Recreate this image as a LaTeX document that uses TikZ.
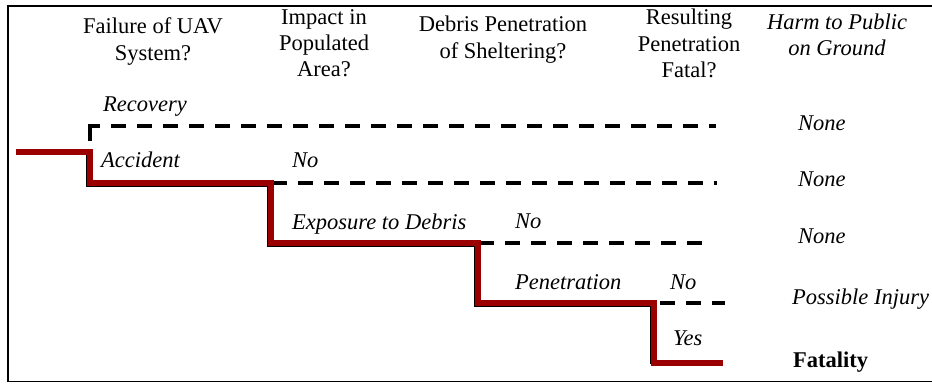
\documentclass[tikz,border=0pt]{standalone}
\usepackage{fontspec}
\setmainfont{Liberation Serif}
\definecolor{pathred}{RGB}{155,0,0}
\tikzset{
  hdr/.style={font=\fontsize{22.5}{27}\selectfont, anchor=base, inner sep=0pt},
  hdri/.style={font=\fontsize{22.5}{27}\selectfont\itshape, anchor=base, inner sep=0pt},
  lbl/.style={font=\fontsize{22.5}{27}\selectfont\itshape, anchor=base west, inner sep=0pt},
  outbold/.style={font=\fontsize{22.5}{27}\selectfont\bfseries, anchor=base west, inner sep=0pt},
  redpath/.style={draw=pathred, line width=5.5pt, line join=miter},
  shadowpath/.style={draw=black, line width=5.5pt, line join=miter},
  dashpath/.style={draw=black, line width=4pt, dash pattern=on 15pt off 11pt},
  framestyle/.style={draw=black, line width=1.5pt}
}
\begin{document}
\begin{tikzpicture}[x=1pt,y=-1pt]
\useasboundingbox (0,0) rectangle (932,383);
% frame
\coordinate (f1) at (932,6);
\coordinate (f2) at (8,6);
\coordinate (f3) at (8,381.5);
\coordinate (f4) at (932,381.5);
\draw[framestyle] (f1) -- (f2) -- (f3) -- (f4);

% headers
\node[hdr] (h1a) at (153,33) {Failure of UAV};
\node[hdr] (h1b) at (153,60) {System?};
\node[hdr] (h2a) at (324,24) {Impact in};
\node[hdr] (h2b) at (324,50) {Populated};
\node[hdr] (h2c) at (324,76) {Area?};
\node[hdr] (h3a) at (503,31) {Debris Penetration};
\node[hdr] (h3b) at (503,58) {of Sheltering?};
\node[hdr] (h4a) at (689,24) {Resulting};
\node[hdr] (h4b) at (689,51) {Penetration};
\node[hdr] (h4c) at (689,77) {Fatal?};
\node[hdri] (h5a) at (837,29) {Harm to Public};
\node[hdri] (h5b) at (837,55) {on Ground};

% path corners
\coordinate (c0) at (16,152);
\coordinate (c1) at (90,152);
\coordinate (c2) at (90,183);
\coordinate (c3) at (271,183);
\coordinate (c4) at (271,243);
\coordinate (c5) at (478,243);
\coordinate (c6) at (478,303);
\coordinate (c7) at (654,303);
\coordinate (c8) at (654,363);
\coordinate (c9) at (723,363);

% dashed branches
\coordinate (d1s) at (90,141);
\coordinate (d1c) at (90,126);
\coordinate (d1h) at (88,126);
\coordinate (d1e) at (716,126);
\coordinate (d2e) at (717,183);
\coordinate (d3e) at (711,243);
\coordinate (d4e) at (725,303);

\draw[draw=black, line width=4pt] (d1s) -- ([yshift=-2pt]d1c);
\draw[dashpath, dash phase=3pt] (d1h) -- (d1e);
\draw[dashpath] (c2) -- (d2e);
\draw[dashpath] (c4) -- (d3e);
\draw[dashpath] (c6) -- (d4e);

% shadow and main path
\draw[shadowpath] ([shift={(-1.5,1)}]c1) -- ([shift={(-1.5,1)}]c2) -- ([shift={(-1.5,1)}]c3) -- ([shift={(-1.5,1)}]c4) -- ([shift={(-1.5,1)}]c5) -- ([shift={(-1.5,1)}]c6) -- ([shift={(-1.5,1)}]c7) -- ([shift={(-1.5,1)}]c8);
\draw[redpath] (c0) -- (c1) -- (c2) -- (c3) -- (c4) -- (c5) -- (c6) -- (c7) -- (c8) -- (c9);

% branch labels
\node[lbl] (lrec) at (103,111) {Recovery};
\node[lbl] (lacc) at (101,167) {Accident};
\node[lbl] (lno1) at (292,167) {No};
\node[lbl] (lexp) at (292,229) {Exposure to Debris};
\node[lbl] (lno2) at (515,228) {No};
\node[lbl] (lpen) at (515,289) {Penetration};
\node[lbl] (lno3) at (670,289) {No};
\node[lbl] (lyes) at (673,345) {Yes};

% outcomes
\node[lbl] (o1) at (798,130) {None};
\node[lbl] (o2) at (798,186) {None};
\node[lbl] (o3) at (798,243) {None};
\node[lbl] (o4) at (792,304) {Possible Injury};
\node[outbold] (o5) at (793,367) {Fatality};
\end{tikzpicture}
\end{document}
